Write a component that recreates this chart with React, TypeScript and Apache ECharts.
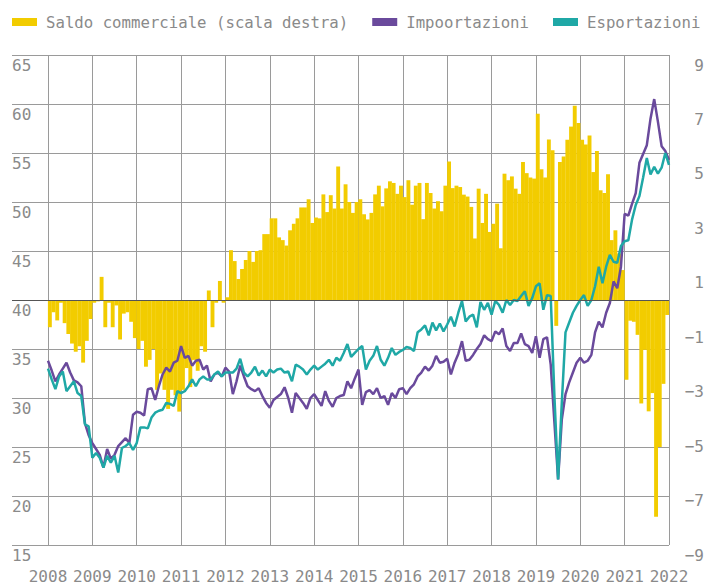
import React, { useEffect, useRef } from "react";
import * as echarts from "echarts";

// Year tick labels (one every 12 months, Jan 2008 .. Jan 2022)
const years = ["2008", "2009", "2010", "2011", "2012", "2013", "2014", "2015", "2016", "2017", "2018", "2019", "2020", "2021", "2022"];

// Saldo commerciale (right scale), monthly Jan 2008 .. Dec 2021
const saldo = [
  -1.0, -0.45, -0.75, -0.1, -0.85, -1.25, -1.6, -1.9, -1.7, -2.3, -1.5, -0.7,
  -0.1, -0.05, 0.85, -1.0, -0.1, -1.0, -0.2, -1.45, -0.5, -0.45, -0.8, -1.4,
  -1.8, -1.5, -2.45, -2.2, -1.8, -3.3, -2.7, -3.3, -4.0, -3.3, -3.5, -4.1,
  -3.3, -2.5, -3.2, -2.2, -2.6, -1.7, -1.9, 0.35, -1.0, -0.1, 0.7, -0.1,
  0.1, 1.83, 1.43, 0.77, 1.14, 1.47, 1.8, 1.4, 1.8, 1.83, 2.42, 2.42,
  3.0, 3.0, 2.3, 2.2, 2.0, 2.56, 2.8, 3.0, 3.4, 3.4, 3.7, 2.83,
  3.03, 3.0, 3.88, 3.23, 3.85, 3.36, 4.9, 3.36, 4.25, 3.6, 3.2, 3.6,
  3.7, 3.15, 2.96, 3.2, 3.88, 4.2, 3.44, 4.1, 4.36, 4.3, 3.9, 4.2,
  3.78, 4.4, 3.5, 4.2, 4.3, 2.97, 4.3, 3.93, 3.36, 3.63, 3.26, 4.2,
  5.09, 4.11, 4.2, 4.15, 3.87, 3.8, 3.42, 2.26, 4.09, 2.83, 3.9, 2.5,
  2.8, 3.54, 1.9, 4.64, 4.4, 4.54, 4.09, 3.9, 5.07, 4.66, 4.5, 4.46,
  6.84, 4.8, 4.5, 5.9, 5.5, -0.95, 5.07, 5.27, 5.89, 6.37, 7.14, 6.5,
  5.89, 5.71, 6.04, 4.7, 5.47, 4.03, 3.93, 4.62, 2.2, 2.56, 1.71, 1.1,
  -2.93, -0.76, -0.8, -1.28, -3.8, -1.83, -4.09, -3.42, -7.96, -5.4, -3.08, -0.55,
];

// Impoortazioni (left scale), monthly Jan 2008 .. Jan 2022
const importazioni = [
  33.8, 32.8, 31.7, 32.4, 33.0, 33.6, 32.6, 31.8, 31.6, 31.2, 27.4, 26.2,
  25.4, 24.8, 24.2, 22.9, 24.8, 23.8, 24.2, 25.1, 25.5, 25.9, 25.4, 28.3,
  28.6, 28.5, 28.2, 30.9, 31.0, 29.8, 31.2, 32.4, 33.1, 32.7, 33.6, 33.8,
  35.3, 34.1, 34.3, 33.3, 33.8, 33.9, 32.9, 33.3, 31.7, 32.4, 32.6, 32.2,
  33.1, 32.7, 30.4, 31.7, 33.3, 32.2, 31.2, 30.9, 30.7, 31.0, 30.2, 29.5,
  29.0, 29.8, 30.1, 30.4, 31.1, 30.0, 28.5, 30.5, 30.0, 29.5, 28.9, 30.0,
  30.4, 29.8, 29.2, 30.7, 29.7, 29.1, 30.0, 30.2, 30.3, 31.7, 31.0, 32.0,
  32.9, 29.3, 30.6, 30.8, 30.4, 31.0, 30.0, 30.2, 29.3, 30.5, 30.0, 30.9,
  31.0, 30.4, 31.0, 31.4, 32.2, 32.6, 33.2, 32.8, 33.3, 34.3, 33.6, 33.7,
  34.0, 32.4, 33.6, 34.5, 35.8, 33.8, 33.9, 34.4, 35.0, 35.5, 36.4, 36.0,
  35.8, 36.8, 36.5, 37.1, 35.3, 34.8, 35.6, 35.6, 36.6, 35.5, 35.3, 34.6,
  36.3, 34.1, 36.0, 36.2, 33.4, 27.5, 21.7, 27.8, 30.4, 31.6, 32.6, 33.6,
  34.1, 33.6, 33.8, 34.4, 36.7, 37.8, 37.2, 38.7, 39.7, 41.9, 41.2, 43.4,
  48.8, 48.6, 49.8, 50.9, 54.0, 54.9, 55.8, 58.5, 60.5, 58.2, 55.7, 55.2,
  54.3,
];

// Esportazioni (left scale), monthly Jan 2008 .. Jan 2022
const esportazioni = [
  33.0, 31.9, 30.9, 32.2, 32.7, 30.7, 31.2, 31.7, 30.5, 30.2, 27.3, 27.1,
  23.9, 24.4, 23.9, 22.9, 24.1, 23.4, 24.1, 22.4, 24.9, 25.1, 25.4, 24.7,
  25.4, 27.0, 27.0, 26.9, 28.0, 28.5, 28.7, 28.8, 29.5, 29.4, 29.2, 30.7,
  30.5, 30.7, 31.2, 31.9, 31.2, 31.9, 32.2, 31.9, 31.9, 32.4, 32.7, 32.2,
  32.6, 32.6, 32.6, 33.0, 34.0, 32.6, 32.2, 32.6, 33.2, 32.3, 32.8, 32.2,
  32.9, 32.6, 32.9, 33.0, 32.6, 32.7, 31.7, 33.4, 33.2, 32.9, 32.4, 32.9,
  33.3, 32.9, 33.2, 33.5, 33.9, 33.3, 34.1, 33.8, 34.6, 35.5, 34.2, 34.6,
  35.0, 35.3, 32.9, 33.8, 34.3, 35.3, 33.9, 33.3, 34.1, 35.1, 34.4, 34.7,
  34.9, 35.2, 35.1, 34.8, 36.7, 37.0, 37.4, 36.4, 37.7, 36.9, 37.6, 36.8,
  37.5, 38.3, 37.3, 38.7, 39.9, 37.8, 38.3, 38.5, 37.2, 39.8, 39.0, 39.7,
  38.5, 39.9, 39.5, 38.7, 40.0, 39.5, 40.0, 39.9, 40.4, 40.9, 39.4, 40.2,
  41.4, 41.7, 39.0, 40.5, 40.4, 30.2, 21.7, 29.5, 36.7, 37.7, 38.7, 39.4,
  40.0, 40.5, 39.4, 40.0, 41.4, 43.4, 41.7, 43.4, 44.6, 43.9, 43.8, 45.5,
  46.0, 46.1, 48.2, 49.7, 50.6, 52.5, 54.5, 52.8, 53.6, 52.9, 53.5, 55.0,
  53.8,
];

const leftTicks = [15, 20, 25, 30, 35, 40, 45, 50, 55, 60, 65];

export default function App() {
  const ref = useRef<HTMLDivElement>(null);

  useEffect(() => {
    if (!ref.current) return;
    const chart = echarts.init(ref.current, null, { renderer: "svg" });
    const font = "'DejaVu Sans Mono', monospace";
    const textGray = "#8a8a8a";
    const gridColor = "#9a9a9a";

    const option: any = {
      animation: false,
      backgroundColor: "#ffffff",
      textStyle: { fontFamily: font },
      legend: {
        left: 12,
        top: 14,
        width: 700,
        padding: 0,
        icon: "rect",
        itemWidth: 25,
        itemHeight: 8,
        itemGap: 24,
        textStyle: {
          fontFamily: font,
          fontSize: 15.7,
          color: textGray,
          padding: [0, 0, 0, 4],
        },
        data: ["Saldo commerciale (scala destra)", "Impoortazioni", "Esportazioni"],
      },
      grid: { left: 48, right: 37, top: 55, bottom: 38, containLabel: false },
      xAxis: {
        type: "value",
        min: 0,
        max: 168,
        interval: 12,
        axisLine: { show: false },
        axisTick: { show: false },
        splitLine: { show: true, lineStyle: { color: gridColor, width: 1 } },
        axisLabel: {
          margin: 23,
          fontFamily: font,
          fontSize: 16,
          color: textGray,
          formatter: (v: number) => years[Math.round(v / 12)] ?? "",
        },
      },
      yAxis: [
        {
          type: "value",
          min: 15,
          max: 65,
          interval: 5,
          axisLine: { show: false },
          axisTick: { show: false },
          splitLine: { show: true, lineStyle: { color: gridColor, width: 1 } },
          axisLabel: {
            align: "left",
            verticalAlign: "top",
            margin: 36,
            padding: [2, 0, 0, 0],
            fontFamily: font,
            fontSize: 16,
            color: textGray,
          },
        },
        {
          type: "value",
          min: -9,
          max: 9,
          interval: 2,
          position: "right",
          axisLine: { show: false },
          axisTick: { show: false },
          splitLine: { show: false },
          axisLabel: {
            align: "right",
            verticalAlign: "top",
            margin: 35,
            padding: [2, 0, 0, 0],
            fontFamily: font,
            fontSize: 16,
            color: textGray,
            formatter: (v: number) => String(v).replace("-", "\u2212"),
          },
        },
      ],
      series: [
        {
          name: "Saldo commerciale (scala destra)",
          type: "bar",
          yAxisIndex: 1,
          color: "#F2CC00",
          barWidth: 3.9,
          itemStyle: { color: "#F2CC00" },
          data: saldo.map((v, i) => [i + 0.5, v]),
          markLine: {
            silent: true,
            symbol: "none",
            label: { show: false },
            lineStyle: { color: "#555555", width: 1, type: "solid" },
            data: [{ yAxis: 0 }],
          },
        },
        {
          name: "Impoortazioni",
          type: "line",
          color: "#6A4A9C",
          showSymbol: false,
          symbol: "none",
          lineStyle: { width: 2.5, color: "#6A4A9C" },
          data: importazioni.map((v, i) => [i, v]),
        },
        {
          name: "Esportazioni",
          type: "line",
          color: "#1FA8A6",
          showSymbol: false,
          symbol: "none",
          lineStyle: { width: 2.5, color: "#1FA8A6" },
          data: esportazioni.map((v, i) => [i, v]),
        },
      ],
    };

    chart.setOption(option);

    // Horizontal gridlines extend leftwards beneath the left tick labels
    const x0 = chart.convertToPixel({ xAxisIndex: 0 }, 0) as number;
    const ext = leftTicks.map((v) => {
      const y = Math.round(chart.convertToPixel({ yAxisIndex: 0 }, v) as number) + 0.5;
      return {
        type: "line",
        silent: true,
        shape: { x1: 12, y1: y, x2: x0, y2: y },
        style: { stroke: v === 40 ? "#555555" : gridColor, lineWidth: 1 },
      };
    });
    chart.setOption({ graphic: ext });

    return () => chart.dispose();
  }, []);

  return (
    <div
      ref={ref}
      style={{ position: "absolute", left: 0, top: 0, width: 707, height: 584 }}
    />
  );
}
